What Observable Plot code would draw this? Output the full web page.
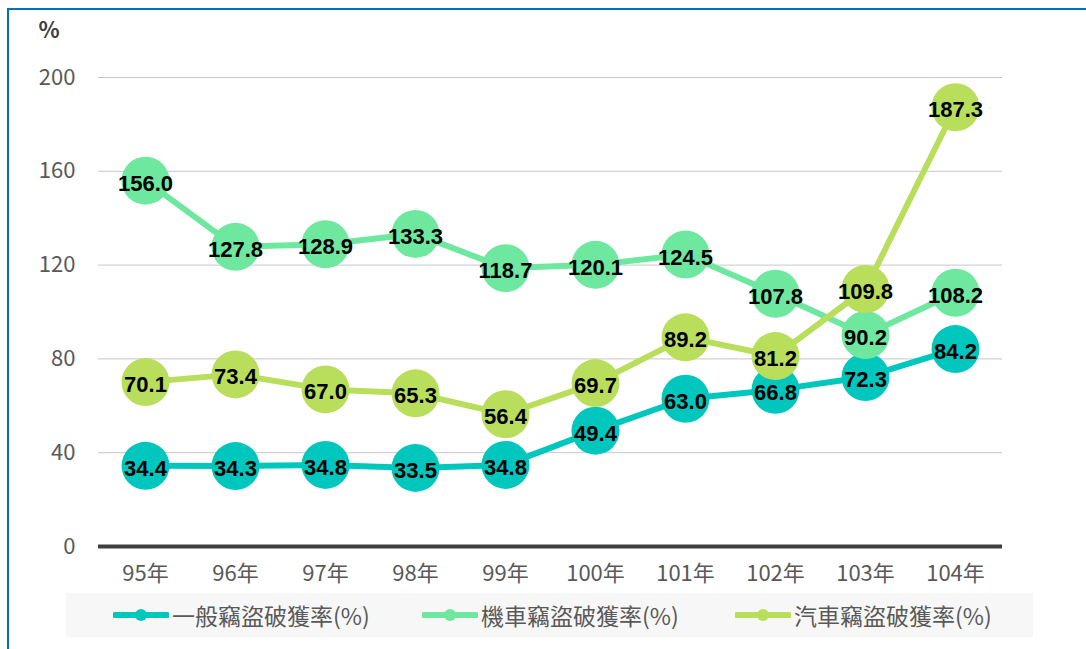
<!DOCTYPE html>
<html>
<head>
<meta charset="utf-8">
<script src="https://cdn.jsdelivr.net/npm/d3@7"></script>
<script src="https://cdn.jsdelivr.net/npm/@observablehq/plot@0.6"></script>
<style>
  body { margin: 0; background: #fff; font-family: "Noto Sans CJK TC", "Noto Sans", sans-serif; }
  #wrap { position: relative; width: 1086px; height: 649px; overflow: hidden; }
  #frame { position: absolute; left: 7px; top: 8px; width: 1100px; height: 700px;
           border-left: 2px solid #0070C0; border-top: 2px solid #0070C0; pointer-events: none; }
  #legend { margin-left: 66px; margin-top: 3px; width: 967px; height: 44px; background: #f7f7f7;
            position: relative; color: #595959; font-size: 23px; }
  .item { position: absolute; top: 0; height: 44px; display: flex; align-items: center; }
  .item svg { margin-right: 3px; }
</style>
</head>
<body>
<div id="wrap">
  <div id="chart"></div>
  <div id="legend"></div>
  <div id="frame"></div>
</div>
<script>
const years = ["95年","96年","97年","98年","99年","100年","101年","102年","103年","104年"];
const seriesNames = ["一般竊盜破獲率(%)","機車竊盜破獲率(%)","汽車竊盜破獲率(%)"];
const generalRate = [34.4, 34.3, 34.8, 33.5, 34.8, 49.4, 63.0, 66.8, 72.3, 84.2];
const motorRate   = [156.0, 127.8, 128.9, 133.3, 118.7, 120.1, 124.5, 107.8, 90.2, 108.2];
const carRate     = [70.1, 73.4, 67.0, 65.3, 56.4, 69.7, 89.2, 81.2, 109.8, 187.3];
const colors = ["#00C7BD", "#6EE89F", "#B8DE5C"];
const yTicks = [0, 40, 80, 120, 160, 200];

const seriesValues = [generalRate, motorRate, carRate];
const data = seriesValues.flatMap((vals, s) => vals.map((v, i) => ({year: years[i], value: v, series: seriesNames[s]})));

const marks = [
  Plot.gridY(yTicks.filter(d => d > 0), {stroke: "#c8c8c8", strokeOpacity: 1, strokeWidth: 1}),
  Plot.ruleY([0], {stroke: "#404040", strokeWidth: 4}),
  Plot.axisY({ticks: yTicks, tickSize: 0, tickPadding: 23, fontSize: 22, fill: "#595959", label: null}),
  Plot.axisX({tickSize: 0, tickPadding: 19, fontSize: 22, fill: "#595959", label: null}),
  Plot.text(["%"], {frameAnchor: "top-left", dx: -60, dy: -55, fontSize: 22, fill: "#404040", fontWeight: "bold"})
];
seriesNames.forEach((name, s) => {
  const d = data.filter(r => r.series === name);
  marks.push(Plot.line(d, {x: "year", y: "value", stroke: colors[s], strokeWidth: 6}));
  marks.push(Plot.dot(d, {x: "year", y: "value", r: 24, fill: colors[s], stroke: "none"}));
});
marks.push(Plot.text(data, {x: "year", y: "value", text: d => d.value.toFixed(1), dy: 3,
  fontSize: 22, fontWeight: "bold", fill: "#000", fontFamily: "Liberation Sans, Arial, sans-serif"}));

const chart = Plot.plot({
  width: 1086,
  height: 590,
  marginLeft: 98,
  marginRight: 84,
  marginTop: 77,
  marginBottom: 44,
  style: {fontFamily: "'Noto Sans CJK TC', 'Noto Sans', sans-serif", background: "transparent", overflow: "visible"},
  x: {type: "point", domain: years, padding: 0.5},
  y: {domain: [0, 200]},
  marks
});
document.getElementById("chart").appendChild(chart);

const legendX = [47, 356, 669];
const legend = document.getElementById("legend");
seriesNames.forEach((name, s) => {
  const item = document.createElement("div");
  item.className = "item";
  item.style.left = legendX[s] + "px";
  item.innerHTML = `<svg width="56" height="14"><line x1="2" y1="7" x2="54" y2="7" stroke="${colors[s]}" stroke-width="6" stroke-linecap="round"/><circle cx="28" cy="7" r="6" fill="${colors[s]}"/></svg><span>${name}</span>`;
  legend.appendChild(item);
});
</script>
</body>
</html>
